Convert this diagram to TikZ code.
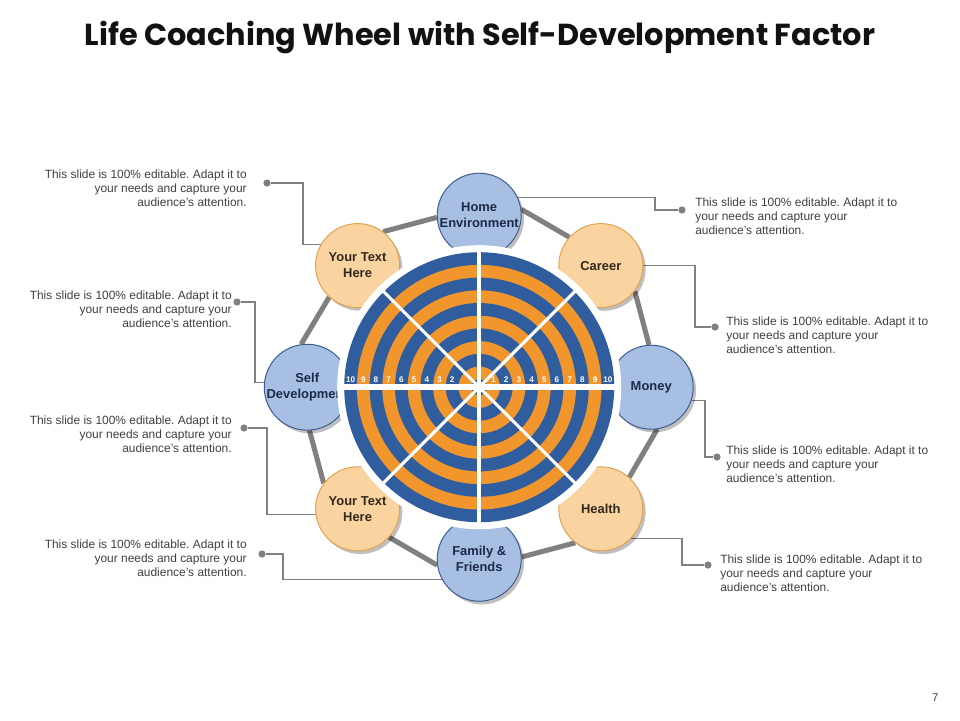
\documentclass[tikz,border=0pt]{standalone}
\usepackage{fontspec}
\setmainfont{Liberation Sans}
\newfontfamily\lctitlefont{Poppins}
\usetikzlibrary{backgrounds}
\usetikzlibrary{calc}
\usetikzlibrary{positioning}
\usetikzlibrary{shadows}
\definecolor{lcink}{HTML}{111111}
\definecolor{lcmuted}{HTML}{404040}
\definecolor{lcline}{HTML}{808080}
\definecolor{lcwheelblue}{HTML}{2F5D9E}
\definecolor{lcwheelorange}{HTML}{F0962C}
\definecolor{lcbluefill}{HTML}{A7BFE3}
\definecolor{lcblueedge}{HTML}{3D5C8E}
\definecolor{lcbluetext}{HTML}{1B2A47}
\definecolor{lcorangefill}{HTML}{F9D4A1}
\definecolor{lcorangeedge}{HTML}{E3A24E}
\definecolor{lcorangetext}{HTML}{33281C}
\frenchspacing
\newcommand{\lcblurb}{This slide is 100\% editable. Adapt it to\\
  your needs and capture your\\audience's attention.}
\tikzset{
  lcdisc/.style={
    circle, minimum size=2.1cm, inner sep=0pt, line width=0.7pt,
    align=center, font=\fontsize{9.2}{11.4}\selectfont\bfseries,
    drop shadow={shadow xshift=0.07cm, shadow yshift=-0.08cm,
      fill=black, opacity=0.25}},
  lcbluedisc/.style={lcdisc, fill=lcbluefill, draw=lcblueedge,
    text=lcbluetext},
  lcorangedisc/.style={lcdisc, fill=lcorangefill, draw=lcorangeedge,
    text=lcorangetext},
  lclink/.style={draw=lcline, line width=3.6pt},
  lccallout/.style={draw=lcline, line width=0.75pt},
  lcdot/.style={circle, fill=lcline, minimum size=0.18cm, inner sep=0pt},
  lcnote/.style={font=\fontsize{8.5}{9.96}\selectfont, text=lcmuted,
    inner sep=0pt},
  lcnum/.style={font=\fontsize{5.8}{6}\selectfont\bfseries, text=white,
    inner sep=0pt},
}

\begin{document}
\begin{tikzpicture}[x=1cm, y=1cm]
\useasboundingbox (0,0) rectangle (24,-18);

% Header.
\node[font=\lctitlefont\fontsize{21.6}{26}\selectfont\bfseries,
  text=lcink] (title) at (12,-0.95)
  {Life Coaching Wheel with Self-Development Factor};
\node[font=\fontsize{8}{9}\selectfont, text=lcmuted] (pageno)
  at (23.38,-17.43) {7};

% ------------------------------------------------------------- discs
\coordinate (hub) at (11.98,-9.68);
\node[lcbluedisc] (home) at ($(hub)+(90:4.3)$) {Home\\Environment};
\node[lcorangedisc] (career) at ($(hub)+(45:4.3)$) {Career};
\node[lcbluedisc] (money) at ($(hub)+(0:4.3)$) {Money};
\node[lcorangedisc] (health) at ($(hub)+(-45:4.3)$) {Health};
\node[lcbluedisc] (family) at ($(hub)+(-90:4.3)$) {Family \&\\Friends};
\node[lcorangedisc] (yourtextb) at ($(hub)+(-135:4.3)$)
  {Your Text\\Here};
\node[lcbluedisc] (selfdev) at ($(hub)+(180:4.3)$) {Self\\Development};
\node[lcorangedisc] (yourtextt) at ($(hub)+(135:4.3)$)
  {Your Text\\Here};

% ---------------------------------------------------------- callouts
\node[lcdot] (d1) at (6.675,-4.575) {};
\node[lcdot] (d2) at (5.925,-7.55) {};
\node[lcdot] (d3) at (6.1,-10.7) {};
\node[lcdot] (d4) at (6.55,-13.85) {};
\node[lcdot] (d5) at (17.05,-5.25) {};
\node[lcdot] (d6) at (17.875,-8.175) {};
\node[lcdot] (d7) at (17.925,-11.425) {};
\node[lcdot] (d8) at (17.7,-14.125) {};
\node[lcnote, anchor=north east, align=right] (t1) at (6.175,-4.25)
  {\lcblurb};
\node[lcnote, anchor=north east, align=right] (t2) at (5.8,-7.275)
  {\lcblurb};
\node[lcnote, anchor=north east, align=right] (t3) at (5.8,-10.4)
  {\lcblurb};
\node[lcnote, anchor=north east, align=right] (t4) at (6.175,-13.5)
  {\lcblurb};
\node[lcnote, anchor=north west, align=left] (t5) at (17.375,-4.95)
  {\lcblurb};
\node[lcnote, anchor=north west, align=left] (t6) at (18.15,-7.925)
  {\lcblurb};
\node[lcnote, anchor=north west, align=left] (t7) at (18.15,-11.15)
  {\lcblurb};
\node[lcnote, anchor=north west, align=left] (t8) at (18.0,-13.875)
  {\lcblurb};

\begin{scope}[on background layer]
\fill[white] (0,0) rectangle (24,-18);
% Ring of links between the discs.
\draw[lclink] (home.8) -- (career.138);
\draw[lclink] (career.-37) -- (money.93);
\draw[lclink] (money.-82) -- (health.48);
\draw[lclink] (health.-127) -- (family.3);
\draw[lclink] (family.-172) -- (yourtextb.-42);
\draw[lclink] (yourtextb.143) -- (selfdev.-87);
\draw[lclink] (selfdev.98) -- (yourtextt.228);
\draw[lclink] (yourtextt.53) -- (home.183);
% Callout lines.
\draw[lccallout] (yourtextt.150) -| ($(d1)+(0.9,0)$) -- (d1);
\draw[lccallout] (selfdev.174) -| ($(d2)+(0.45,0)$) -- (d2);
\draw[lccallout] (yourtextb.188) -| ($(d3)+(0.575,0)$) -- (d3);
\draw[lccallout] (family.208) -| ($(d4)+(0.525,0)$) -- (d4);
\draw[lccallout] (home.25) -| ($(d5)+(-0.675,0)$) -- (d5);
\draw[lccallout] (career.0) -| ($(d6)+(-0.5,0)$) -- (d6);
\draw[lccallout] (money.-18) -| ($(d7)+(-0.3,0)$) -- (d7);
\draw[lccallout] (health.-44) -| ($(d8)+(-0.65,0)$) -- (d8);
\end{scope}

% ------------------------------------------------------------- wheel
\fill[white] (hub) circle (3.55);
\foreach \k in {0,2,...,8} {
  \fill[lcwheelblue] (hub) circle ({3.375 - 0.3175*\k});
  \fill[lcwheelorange] (hub) circle ({3.375 - 0.3175*(\k+1)});
}
\fill[lcwheelblue] (hub) circle (0.2);
\draw[white, line width=4.5pt] ($(hub)+(-3.45,0)$) -- ($(hub)+(3.45,0)$);
\draw[white, line width=3pt] ($(hub)+(0,-3.45)$) -- ($(hub)+(0,3.45)$);
\foreach \a in {45,135} {
  \draw[white, line width=2.2pt] ($(hub)+(\a:3.45)$)
    -- ($(hub)+(\a+180:3.45)$);
}
\fill[white] (hub) circle (0.14);
\foreach \k in {1,...,10} {
  \node[lcnum] (east\k) at ($(hub)+({0.04+0.3175*\k},0.19)$) {\k};
}
\foreach \k in {2,...,10} {
  \node[lcnum] (west\k) at ($(hub)+({-0.04-0.3175*\k},0.19)$) {\k};
}

\end{tikzpicture}
\end{document}
